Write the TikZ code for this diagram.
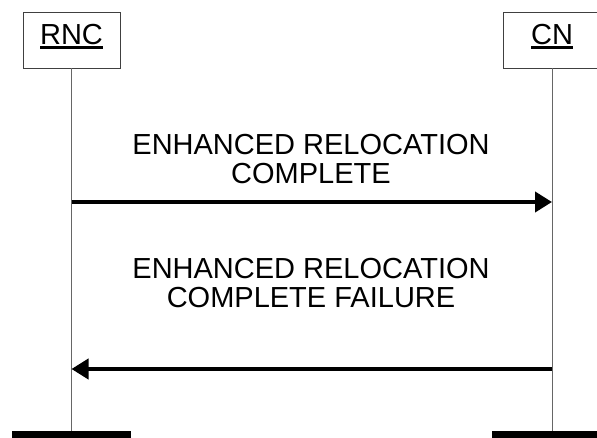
\documentclass[tikz,border=0pt]{standalone}
\usepackage{fontspec}
\setmainfont{Liberation Sans}
\usetikzlibrary{arrows.meta}
\newcommand\myul[1]{\setbox0\hbox{#1}\rlap{\rule[-4.5pt]{\wd0}{3pt}}\box0}
\begin{document}
\begin{tikzpicture}[x=1pt,y=-1pt,
  entity/.style={draw=black!75,line width=0.9pt,minimum width=97pt,minimum height=56pt,inner sep=0pt},
  ename/.style={font=\fontsize{29}{32}\selectfont,inner sep=0pt,anchor=base},
  life/.style={draw=black!60,line width=1pt},
  msg/.style={line width=4pt,-{Triangle[length=17pt,width=20pt]}},
  lbl/.style={align=center,font=\fontsize{29}{29.5}\selectfont,inner sep=0pt},
  bar/.style={fill=black,draw=none}]
\useasboundingbox (0,0) rectangle (597,438);
\node[entity] (rnc) at (71.5,40) {};
\node[entity] (cn) at (552,40) {};
\node[ename] (rnct) at (71.5,45) {\myul{RNC}};
\node[ename] (cnt) at (552,45) {\myul{CN}};
\coordinate (rncb) at (71.5,438);
\coordinate (cnb) at (552,438);
\draw[life] (rnc.south) -- (rncb);
\draw[life] (cn.south) -- (cnb);
\coordinate (m1s) at (71.5,202);
\coordinate (m1e) at (552,202);
\coordinate (m2s) at (552,369);
\coordinate (m2e) at (71.5,369);
\draw[msg] (m1s) -- (m1e);
\draw[msg] (m2s) -- (m2e);
\node[lbl,anchor=base] (t1) at (311,184) {ENHANCED RELOCATION\\COMPLETE};
\node[lbl,anchor=base] (t2) at (311,308) {ENHANCED RELOCATION\\COMPLETE FAILURE};
\fill[bar] (12,431) rectangle (131,438);
\fill[bar] (492,431) rectangle (612,438);
\end{tikzpicture}
\end{document}
